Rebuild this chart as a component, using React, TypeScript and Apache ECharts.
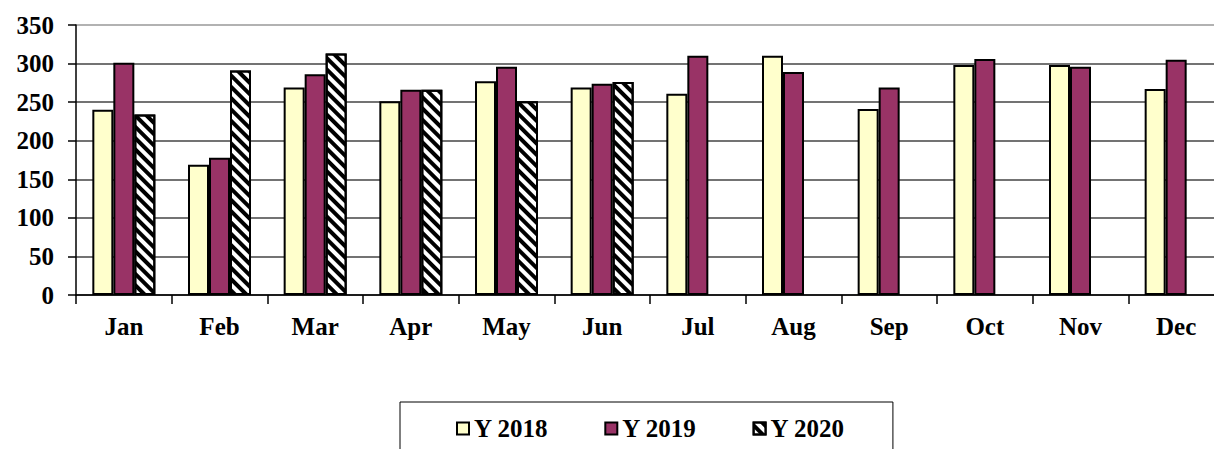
import React, { useEffect, useRef } from "react";
import * as echarts from "echarts";

const months = ["Jan", "Feb", "Mar", "Apr", "May", "Jun", "Jul", "Aug", "Sep", "Oct", "Nov", "Dec"];
const y2018 = [240, 169, 269, 251, 277, 269, 261, 310, 241, 298, 298, 267];
const y2019 = [301, 178, 286, 266, 296, 274, 310, 289, 269, 306, 296, 305];
const y2020 = [234, 291, 313, 266, 251, 276, null, null, null, null, null, null];
const yTicks = { min: 0, max: 350, interval: 50 };

const FONT = "'Liberation Serif', 'Times New Roman', serif";

export default function App() {
  const ref = useRef<HTMLDivElement>(null);
  useEffect(() => {
    if (!ref.current) return;
    const chart = echarts.init(ref.current, undefined, { renderer: "svg" });
    const border = { borderColor: "#000", borderWidth: 2 };
    chart.setOption({
      animation: false,
      backgroundColor: "#fff",
      grid: { left: 76, top: 25, right: 0, bottom: 154, containLabel: false },
      legend: {
        left: 400,
        top: 402,
        orient: "horizontal",
        backgroundColor: "#fff",
        borderColor: "#000",
        borderWidth: 1,
        padding: [14, 48, 60, 56],
        itemGap: 56,
        itemWidth: 12,
        itemHeight: 12,
        icon: "rect",
        textStyle: { fontFamily: FONT, fontWeight: "bold", fontSize: 25, color: "#000", padding: [2, 0, 0, 0] },
        data: ["Y 2018", "Y 2019", "Y 2020"],
      },
      xAxis: {
        type: "category",
        data: months,
        boundaryGap: true,
        axisLine: { show: true, lineStyle: { color: "#000", width: 1.5 } },
        axisTick: { show: true, alignWithLabel: false, length: 9, lineStyle: { color: "#000", width: 1.5 } },
        axisLabel: { fontFamily: FONT, fontWeight: "bold", fontSize: 25, color: "#000", margin: 19, interval: 0 },
      },
      yAxis: {
        type: "value",
        min: yTicks.min,
        max: yTicks.max,
        interval: yTicks.interval,
        axisLine: { show: true, lineStyle: { color: "#000", width: 1.5 } },
        axisTick: { show: true, length: 8, inside: false, lineStyle: { color: "#000", width: 1.5 } },
        axisLabel: { fontFamily: FONT, fontWeight: "bold", fontSize: 25, color: "#000", margin: 22 },
        splitLine: {
          show: true,
          lineStyle: { color: ["#444", "#444", "#444", "#444", "#444", "#444", "#444", "#999"], width: 1.5 },
        },
      },
      series: [
        {
          name: "Y 2018",
          type: "bar",
          data: y2018,
          barWidth: 21,
          barGap: "0%",
          itemStyle: { color: "#FFFFCC", ...border },
        },
        {
          name: "Y 2019",
          type: "bar",
          data: y2019,
          barWidth: 21,
          barGap: "0%",
          itemStyle: { color: "#993366", ...border },
        },
        {
          name: "Y 2020",
          type: "bar",
          data: y2020,
          barWidth: 21,
          barGap: "0%",
          itemStyle: {
            color: "#fff",
            ...border,
            decal: {
              symbol: "rect",
              symbolSize: 1,
              color: "#000",
              dashArrayX: [1, 0],
              dashArrayY: [4, 4],
              rotation: Math.PI / 4,
            },
          },
        },
      ],
    });
    return () => chart.dispose();
  }, []);
  return (
    <div style={{ position: "fixed", left: 0, top: 0, width: 1214, height: 449, overflow: "hidden", background: "#fff" }}>
      <div ref={ref} style={{ width: 1224, height: 449 }} />
    </div>
  );
}
